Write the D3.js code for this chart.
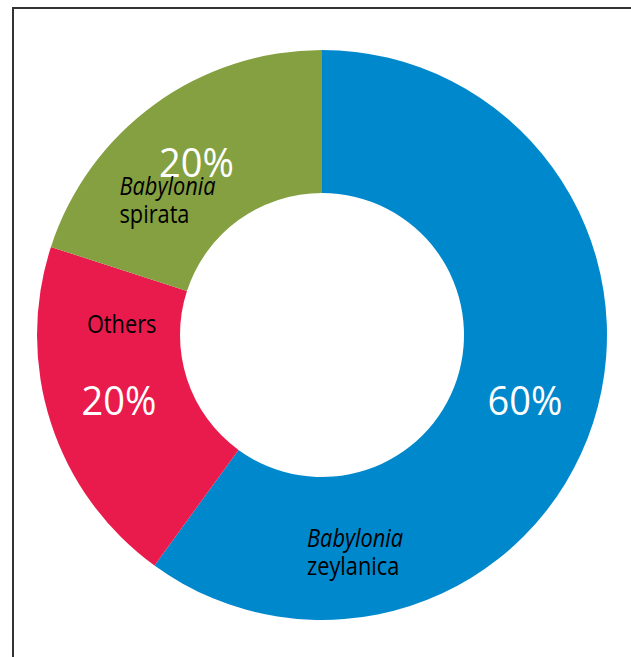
<!DOCTYPE html>
<html lang="en">
<head>
    <meta charset="UTF-8">
    <title>Babylonia share</title>
    <style>
        body { margin: 0; background: #fff; }
    </style>
</head>
<body></body>
<script src="https://cdn.jsdelivr.net/npm/d3@7"></script>
<script>
    // slices go clockwise from 12 o'clock
    const species = ["zeylanica", "others", "spirata"];
    const shares = [60, 20, 20];
    const colors = ["#0088cc", "#e81b4c", "#84a040"];
    // name labels: italic genus line (may be empty) + plain second line
    const genusLines = ["Babylonia", "", "Babylonia"];
    const nameLines = ["zeylanica", "Others", "spirata"];

    let width = 631;
    let height = 657;
    let cx = 322, cy = 335;
    let outerR = 285, innerR = 142;

    let svg = d3.select("body")
                .append("svg")
                .attr("width", width)
                .attr("height", height);

    // frame: only top and left edges show
    svg.append("path")
        .attr("d", `M13,${height} V8 H${width}`)
        .style("fill", "none")
        .style("stroke", "#333")
        .style("stroke-width", 2);

    const pie = d3.pie().sort(null).value(d => d)(shares);
    const arc = d3.arc().innerRadius(innerR).outerRadius(outerR);

    let g = svg.append("g").attr("transform", `translate(${cx},${cy})`);

    g.selectAll("path.slice")
        .data(pie)
        .enter()
        .append("path")
        .attr("class", "slice")
        .attr("d", arc)
        .style("fill", (d, i) => colors[i]);

    // percentages at the arc centroids
    g.selectAll("text.pct")
        .data(pie)
        .enter()
        .append("text")
        .attr("class", "pct")
        .attr("x", d => arc.centroid(d)[0])
        .attr("y", d => arc.centroid(d)[1])
        .attr("text-anchor", "middle")
        .attr("dy", "0.36em")
        .style("font-family", "'Open Sans', sans-serif")
        .style("font-size", "40px")
        .style("fill", "#fff")
        .attr("transform", d => {
            let c = arc.centroid(d);
            return `translate(${c[0]},0) scale(0.95,1) translate(${-c[0]},0)`;
        })
        .text(d => d.value + "%");

    // name label spots (left edge, first baseline) as offsets from the centroid
    const nameOffsets = [[-218, 146], [-32, -68], [-77, 33]];

    let names = g.selectAll("text.name")
        .data(pie)
        .enter()
        .append("text")
        .attr("class", "name")
        .attr("text-anchor", "start")
        .style("font-family", "'Open Sans', sans-serif")
        .style("font-size", "25px")
        .style("fill", "#000")
        .attr("transform", (d, i) => {
            let c = arc.centroid(d);
            // squeeze to look like the condensed face of the original
            return `translate(${c[0] + nameOffsets[i][0]},${c[1] + nameOffsets[i][1]}) scale(0.87,1)`;
        });

    names.each(function (d, i) {
        let t = d3.select(this);
        if (genusLines[i]) {
            t.append("tspan").attr("x", 0).attr("y", 0)
                .style("font-style", "italic").text(genusLines[i]);
            t.append("tspan").attr("x", 0).attr("y", 28).text(nameLines[i]);
        } else {
            t.append("tspan").attr("x", 0).attr("y", 0).text(nameLines[i]);
        }
    });
</script>
</html>
